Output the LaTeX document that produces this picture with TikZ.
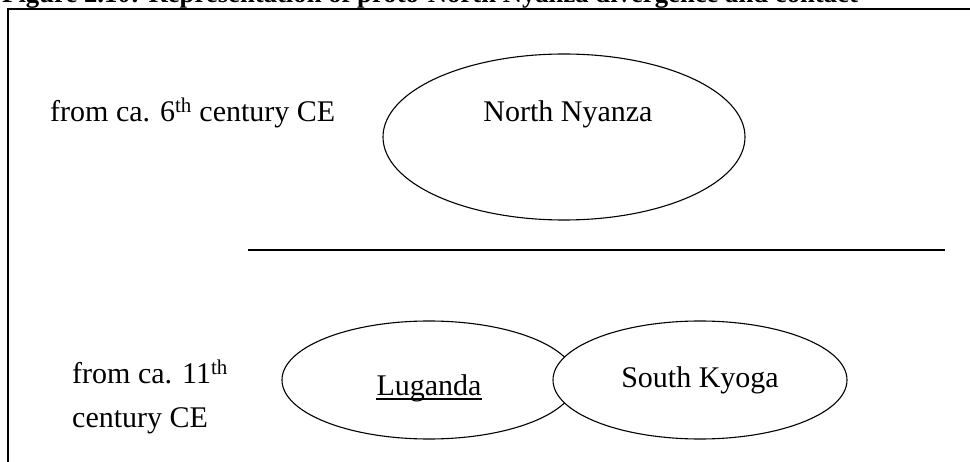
\documentclass[tikz,border=0pt]{standalone}
\usepackage{fontspec}
\setmainfont{Liberation Serif}
\usetikzlibrary{shapes.geometric}

\begin{document}
\begin{tikzpicture}[x=1pt, y=-1pt,
    blob/.style={ellipse, draw, line width=1.1pt, fill=white, minimum width=294pt, minimum height=118pt, inner sep=0pt},
    lang/.style={font=\fontsize{30}{36}\selectfont, inner sep=0pt, anchor=base},
    period/.style={font=\fontsize{30}{44}\selectfont, inner sep=0pt, anchor=base west, align=left},
    frame/.style={line width=1.3pt}
]
    \useasboundingbox (0,0) rectangle (970,462);

    % Caption
    \node[font=\fontsize{26.7}{32}\selectfont\bfseries, inner sep=0pt, anchor=base west] (title) at (2,2.5) {Figure 2.10: Representation of proto-North Nyanza divergence and contact};

    % Frame
    \coordinate (tl) at (8,9);
    \coordinate (tr) at (972,9);
    \coordinate (bl) at (8,464);
    \draw[frame] (bl) -- (tl) -- (tr);

    % Upper period
    \node[period] (early) at (50,122) {from ca. 6\textsuperscript{th} century CE};
    \node[blob, minimum width=362pt, minimum height=166pt] (nn) at (564,137) {};
    \node[lang] (nnlbl) at ([shift={(4,-15)}]nn.center) {North Nyanza};

    % Divider
    \coordinate (divl) at (248,250);
    \coordinate (divr) at (945,250);
    \draw[line width=2pt] (divl) -- (divr);

    % Lower period
    \node[period] (late) at (72,428) {from ca. 11\textsuperscript{th}\\century CE};
    \node[blob] (lug) at (429,380) {};
    \node[blob] (sk) at (700,380) {};
    \node[lang] (luglbl) at ([shift={(0,16)}]lug.center) {Luganda};
    \draw[line width=1.3pt] ([yshift=-3pt]luglbl.base west) -- ([yshift=-3pt]luglbl.base east);
    \node[lang] (sklbl) at ([shift={(0,8)}]sk.center) {South Kyoga};
\end{tikzpicture}
\end{document}
